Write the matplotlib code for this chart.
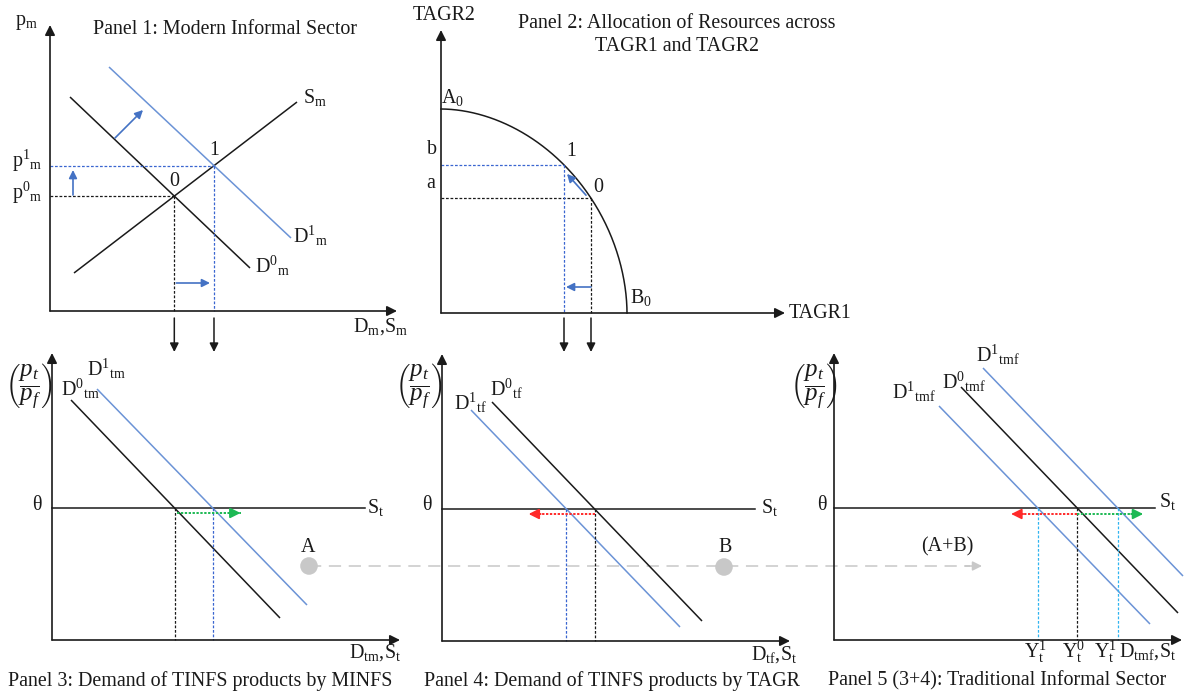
import numpy as np
import matplotlib
matplotlib.use('Agg')
import matplotlib.pyplot as plt

plt.rcParams['font.family'] = ['Liberation Serif', 'DejaVu Serif']
plt.rcParams['mathtext.fontset'] = 'custom'
plt.rcParams['mathtext.rm'] = 'Liberation Serif'
plt.rcParams['mathtext.it'] = 'Liberation Serif:italic'
plt.rcParams['mathtext.bf'] = 'Liberation Serif:bold'

# Panel 1: modern informal sector, lines as [x0, y0, x1, y1]
p1_demand0 = [20, 214, 200, 43]
p1_demand1 = [59, 244, 241, 73]
p1_supply = [24, 38, 247, 209]

# Panel 2: frontier between TAGR1 and TAGR2 (superellipse)
ppf_a, ppf_b, ppf_n = 186, 204, 1.9
ppf_x0, ppf_x1 = 150, 123

# Panels 3-5: demand lines against the fixed relative price theta
theta = 132
p3_demand0 = [19, 240, 228, 22]
p3_demand1 = [45, 251, 255, 35]
p3_supply_end = 313
p4_demand0 = [50, 239, 260, 20]
p4_demand1 = [29, 231, 238, 14]
p4_supply_end = 313
p5_demand0 = [127, 253, 344, 27]
p5_demand1_up = [149, 272, 349, 64]
p5_demand1_down = [105, 234, 316, 16]
p5_supply_end = 321

BLACK = '#1a1a1a'
BLUE = '#6b93d6'
DBLUE = '#3a66d0'
ABLUE = '#4472c4'
CYAN = '#2fb4f0'
GREEN = '#1db954'
RED = '#ff2a2a'
GREY = '#c8c8c8'
FS = 14.4
DASH = (0, (2.2, 1.4))

fig = plt.figure(figsize=(11.88, 6.96), dpi=100)
ax = fig.add_axes([0, 0, 1, 1])
ax.set_xlim(0, 1188)
ax.set_ylim(696, 0)
ax.axis('off')


def px(org, x, y):
    return org[0] + np.asarray(x, float), org[1] - np.asarray(y, float)


def seg(org, s, **kw):
    xs, ys = px(org, [s[0], s[2]], [s[1], s[3]])
    ax.plot(xs, ys, solid_capstyle='butt', **kw)


def arrow(p0, p1, color=BLACK, lw=1.2, ms=13):
    ax.annotate('', xy=p1, xytext=p0,
                arrowprops=dict(arrowstyle='-|>', color=color, lw=lw,
                                mutation_scale=ms, shrinkA=0, shrinkB=0))


def axes_frame(org, w, h):
    arrow(org, (org[0] + w, org[1]), ms=15)
    arrow(org, (org[0], org[1] - h), ms=15)


def at_level(s, level):
    x0, y0, x1, y1 = s
    return x0 + (level - y0) * (x1 - x0) / (y1 - y0)


def crossing(s1, s2):
    m1 = (s1[3] - s1[1]) / (s1[2] - s1[0])
    m2 = (s2[3] - s2[1]) / (s2[2] - s2[0])
    x = (s2[1] - s1[1] + m1 * s1[0] - m2 * s2[0]) / (m1 - m2)
    return x, s1[1] + m1 * (x - s1[0])


def txt(x, y, s, size=FS, ha='left', va='center', color=BLACK, **kw):
    ax.text(x, y, s, fontsize=size, ha=ha, va=va, color=color, **kw)


def dashed(xs, ys, color):
    ax.plot(xs, ys, color=color, lw=0.9, linestyle=DASH)


# ---------------- Panel 1 ----------------
o1 = (50, 311)
axes_frame(o1, 347, 286)
seg(o1, p1_demand0, color=BLACK, lw=1.1)
seg(o1, p1_supply, color=BLACK, lw=1.1)
seg(o1, p1_demand1, color=BLUE, lw=1.1)
e0 = crossing(p1_demand0, p1_supply)
e1 = crossing(p1_demand1, p1_supply)
X0, Y0 = px(o1, *e0)
X1, Y1 = px(o1, *e1)
dashed([o1[0], X0], [Y0, Y0], BLACK)
dashed([X0, X0], [Y0, o1[1]], BLACK)
dashed([o1[0], X1], [Y1, Y1], DBLUE)
dashed([X1, X1], [Y1, o1[1]], DBLUE)
arrow((73, 195), (73, 170), ABLUE, lw=1.2, ms=12)
arrow((115, 138), (143, 110), ABLUE, lw=1.2, ms=12)
arrow((X0 + 2, 283), (X1 - 4, 283), ABLUE, lw=1.2, ms=12)
for xx in (X0, X1):
    arrow((xx, 318), (xx, 352), BLACK, lw=1.1, ms=13)

txt(15, 22, r'$\mathrm{p}_{\mathrm{m}}$')
txt(225, 29, 'Panel 1: Modern Informal Sector', ha='center')
txt(303, 97, r'$\mathrm{S}_{\mathrm{m}}$')
txt(293, 236, r'$\mathrm{D}^{1}{}_{\mathrm{m}}$')
txt(255, 266, r'$\mathrm{D}^{0}{}_{\mathrm{m}}$')
txt(X1, Y1 - 15, '1', ha='center')
txt(X0, Y0 - 15, '0', ha='center')
txt(12, 161, r'$\mathrm{p}^{1}{}_{\mathrm{m}}$')
txt(12, 193, r'$\mathrm{p}^{0}{}_{\mathrm{m}}$')
txt(353, 327, r'$\mathrm{D}_{\mathrm{m}},\!\mathrm{S}_{\mathrm{m}}$')

# ---------------- Panel 2 ----------------
o2 = (441, 313)
axes_frame(o2, 344, 283)
t = np.linspace(0, np.pi / 2, 300)
cx = ppf_a * np.cos(t) ** (2 / ppf_n)
cy = ppf_b * np.sin(t) ** (2 / ppf_n)
ax.plot(*px(o2, cx, cy), color=BLACK, lw=1.1)


def ppf_y(x):
    return ppf_b * (1 - (x / ppf_a) ** ppf_n) ** (1 / ppf_n)


q0 = px(o2, ppf_x0, ppf_y(ppf_x0))
q1 = px(o2, ppf_x1, ppf_y(ppf_x1))
dashed([o2[0], q0[0]], [q0[1], q0[1]], BLACK)
dashed([q0[0], q0[0]], [q0[1], o2[1]], BLACK)
dashed([o2[0], q1[0]], [q1[1], q1[1]], DBLUE)
dashed([q1[0], q1[0]], [q1[1], o2[1]], DBLUE)
arrow((q0[0] - 5, q0[1] - 3), (q1[0] + 3, q1[1] + 9), ABLUE, lw=1.2, ms=12)
arrow((q0[0], 287), (q1[0] + 2, 287), ABLUE, lw=1.2, ms=12)
for xx in (q1[0], q0[0]):
    arrow((xx, 318), (xx, 352), BLACK, lw=1.1, ms=13)

txt(444, 15, 'TAGR2', ha='center')
txt(677, 35, 'Panel 2: Allocation of Resources across\nTAGR1 and TAGR2',
    ha='center', linespacing=1.3)
txt(441, 97, r'$\mathrm{A}_{0}$')
txt(432, 150, 'b', ha='center')
txt(431, 184, 'a', ha='center')
txt(q1[0] + 7, q1[1] - 13, '1', ha='center')
txt(q0[0] + 7, q0[1] - 11, '0', ha='center')
txt(630, 297, r'$\mathrm{B}_{0}$')
txt(789, 313, 'TAGR1')

PRICE = r'$\left(\dfrac{p_t}{p_f}\right)$'
PSIZE = 18


# ---------------- Panels 3-5 shared pieces ----------------
def demand_panel(org, supply_end):
    axes_frame(org, 348, 287)
    xs, ys = px(org, [0, supply_end], [theta, theta])
    ax.plot(xs, ys, color=BLACK, lw=1.1)


def shift_arrow(x_from, x_to, y, color):
    ax.plot([x_from, x_to], [y, y], color=color, lw=1.4, linestyle=(0, (1.2, 0.8)))
    d = np.sign(x_to - x_from)
    arrow((x_to - d * 12, y), (x_to, y), color, lw=1.4, ms=15)


# ---------------- Panel 3 ----------------
o3 = (52, 640)
demand_panel(o3, p3_supply_end)
seg(o3, p3_demand0, color=BLACK, lw=1.1)
seg(o3, p3_demand1, color=BLUE, lw=1.1)
a0 = o3[0] + at_level(p3_demand0, theta)
a1 = o3[0] + at_level(p3_demand1, theta)
yt = o3[1] - theta
dashed([a0, a0], [yt, o3[1]], BLACK)
dashed([a1, a1], [yt, o3[1]], DBLUE)
shift_arrow(a0 + 2, a0 + 66, yt + 5, GREEN)

txt(29, 386, PRICE, ha='center', size=PSIZE)
txt(61, 389, r'$\mathrm{D}^{0}{}_{\mathrm{tm}}$')
txt(87, 369, r'$\mathrm{D}^{1}{}_{\mathrm{tm}}$')
txt(37, 505, 'θ', ha='center')
txt(367, 507, r'$\mathrm{S}_{\mathrm{t}}$')
txt(308, 548, 'A', ha='center')
txt(349, 653, r'$\mathrm{D}_{\mathrm{tm}},\!\mathrm{S}_{\mathrm{t}}$')
txt(200, 681, 'Panel 3: Demand of TINFS products by MINFS', ha='center')

# ---------------- Panel 4 ----------------
o4 = (442, 641)
demand_panel(o4, p4_supply_end)
seg(o4, p4_demand0, color=BLACK, lw=1.1)
seg(o4, p4_demand1, color=BLUE, lw=1.1)
b0 = o4[0] + at_level(p4_demand0, theta)
b1 = o4[0] + at_level(p4_demand1, theta)
yt4 = o4[1] - theta
dashed([b0, b0], [yt4, o4[1]], BLACK)
dashed([b1, b1], [yt4, o4[1]], DBLUE)
shift_arrow(b0, b0 - 66, yt4 + 5, RED)

txt(419, 386, PRICE, ha='center', size=PSIZE)
txt(454, 403, r'$\mathrm{D}^{1}{}_{\mathrm{tf}}$')
txt(490, 389, r'$\mathrm{D}^{0}{}_{\mathrm{tf}}$')
txt(427, 506, 'θ', ha='center')
txt(761, 507, r'$\mathrm{S}_{\mathrm{t}}$')
txt(725, 548, 'B', ha='center')
txt(751, 655, r'$\mathrm{D}_{\mathrm{tf}},\!\mathrm{S}_{\mathrm{t}}$')
txt(612, 681, 'Panel 4: Demand of TINFS products by TAGR', ha='center')

# ---------------- Panel 5 ----------------
o5 = (834, 640)
demand_panel(o5, p5_supply_end)
seg(o5, p5_demand0, color=BLACK, lw=1.1)
seg(o5, p5_demand1_up, color=BLUE, lw=1.1)
seg(o5, p5_demand1_down, color=BLUE, lw=1.1)
c0 = o5[0] + at_level(p5_demand0, theta)
cu = o5[0] + at_level(p5_demand1_up, theta)
cd = o5[0] + at_level(p5_demand1_down, theta)
yt5 = o5[1] - theta
dashed([c0, c0], [yt5, o5[1]], BLACK)
dashed([cu, cu], [yt5, o5[1]], CYAN)
dashed([cd, cd], [yt5, o5[1]], CYAN)
shift_arrow(c0, c0 - 66, yt5 + 6, RED)
shift_arrow(c0, c0 + 66, yt5 + 6, GREEN)

txt(814, 386, PRICE, ha='center', size=PSIZE)
txt(976, 355, r'$\mathrm{D}^{1}{}_{\mathrm{tmf}}$')
txt(942, 382, r'$\mathrm{D}^{0}{}_{\mathrm{tmf}}$')
txt(892, 392, r'$\mathrm{D}^{1}{}_{\mathrm{tmf}}$')
txt(822, 506, 'θ', ha='center')
txt(1159, 501, r'$\mathrm{S}_{\mathrm{t}}$')
txt(947, 547, '(A+B)', ha='center')
txt(cd - 2, 652, r'$\mathrm{Y}_{\mathrm{t}}^{1}$', ha='center')
txt(c0 - 4, 652, r'$\mathrm{Y}_{\mathrm{t}}^{0}$', ha='center')
txt(cu - 12, 652, r'$\mathrm{Y}_{\mathrm{t}}^{1}$', ha='center')
txt(1119, 652, r'$\mathrm{D}_{\mathrm{tmf}},\!\mathrm{S}_{\mathrm{t}}$')
txt(997, 681, 'Panel 5 (3+4): Traditional Informal Sector', ha='center')

# Aggregation link from A and B into panel 5
ax.plot([309, 970], [566, 566], color=GREY, lw=1.1, linestyle=(0, (8, 5)), zorder=1)
arrow((965, 566), (982, 566), GREY, lw=1.1, ms=14)
ax.scatter([309, 724], [566, 567], s=160, color=GREY, zorder=3, edgecolors='none')

fig.savefig('out.png', dpi=100)
